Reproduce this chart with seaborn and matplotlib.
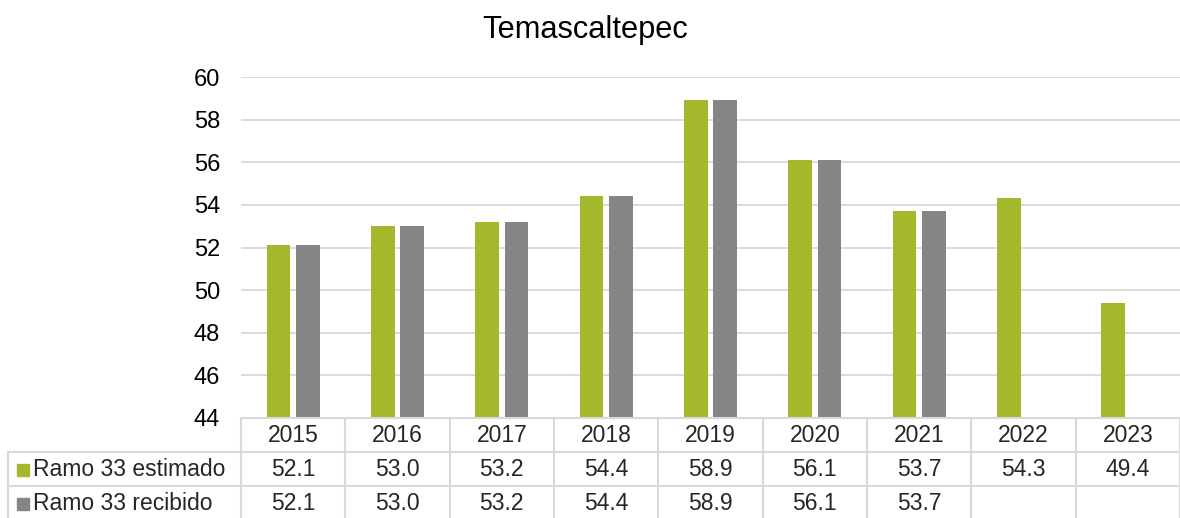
import numpy as np
import pandas as pd
import matplotlib
matplotlib.use("Agg")
import matplotlib.pyplot as plt
import matplotlib.transforms as mtransforms
import seaborn as sns

# Datos del gráfico
anios = ["2015", "2016", "2017", "2018", "2019", "2020", "2021", "2022", "2023"]
estimado = [52.1, 53.0, 53.2, 54.4, 58.9, 56.1, 53.7, 54.3, 49.4]
recibido = [52.1, 53.0, 53.2, 54.4, 58.9, 56.1, 53.7, np.nan, np.nan]
series = ["Ramo 33 estimado", "Ramo 33 recibido"]
colores = ["#A5B82B", "#858585"]
y_ticks = [44, 46, 48, 50, 52, 54, 56, 58, 60]

df = pd.DataFrame({
    "anio": anios * 2,
    "valor": estimado + recibido,
    "serie": [series[0]] * len(anios) + [series[1]] * len(anios),
})

sns.set_theme(style="white")
plt.rcParams["font.family"] = ["Liberation Sans", "DejaVu Sans"]

W, H = 1180, 518
fs_tabla = 16.5
fig = plt.figure(figsize=(W / 100, H / 100), dpi=100)
ax = fig.add_axes([241 / W, 100 / H, 1 - 241 / W, 341 / H])

sns.barplot(data=df, x="anio", y="valor", hue="serie", order=anios,
            hue_order=series, palette=colores, width=0.565, gap=0.2,
            saturation=1, linewidth=0, legend=False, ax=ax)

ax.set_ylim(44, 60)
ax.set_xlim(-0.5, len(anios) - 0.5)
ax.set_yticks(y_ticks)
ax.set_yticklabels([str(t) for t in y_ticks], fontsize=17, color="#000000")
ax.tick_params(axis="y", length=0, pad=15)
ax.set_xticks([])
ax.set_xlabel("")
ax.set_ylabel("")
ax.yaxis.grid(True, color="#D9D9D9", lw=1.3)
ax.set_axisbelow(True)
for s in ax.spines.values():
    s.set_visible(False)

fig.text(0.496, 1 - 30 / H, "Temascaltepec", ha="center", va="center",
         fontsize=22.2, color="#000000")

# Tabla de datos debajo del gráfico
tr = mtransforms.blended_transform_factory(ax.transData, fig.transFigure)
line_c = "#D9D9D9"


def fy(py):
    return 1 - py / H


x_left = -0.5 - (241 - 8) / ((W - 241) / len(anios))
y_top, y_r1, y_r2, y_bot = 418, 452, 486, 518

ax.plot([-0.5, len(anios) - 0.5], [fy(y_top)] * 2, color=line_c, lw=1.5,
        transform=tr, clip_on=False)
for yy in (y_r1, y_r2):
    ax.plot([x_left, len(anios) - 0.5], [fy(yy)] * 2, color=line_c, lw=1.5,
            transform=tr, clip_on=False)
for k in range(len(anios) + 1):
    ax.plot([k - 0.5, k - 0.5], [fy(y_top), fy(y_bot + 2)], color=line_c,
            lw=1.5, transform=tr, clip_on=False)
ax.plot([x_left, x_left], [fy(y_r1), fy(y_bot + 2)], color=line_c, lw=1.5,
        transform=tr, clip_on=False)

for i, a in enumerate(anios):
    ax.text(i, fy(436), a, ha="center", va="center",
            fontsize=fs_tabla, transform=tr)
    for vals, yc in ((estimado, 470), (recibido, 504)):
        v = vals[i]
        if not np.isnan(v):
            ax.text(i, fy(yc), f"{v:.1f}", ha="center",
                    va="center", fontsize=fs_tabla, transform=tr)

for nombre, col, yc in zip(series, colores, (470, 504)):
    fig.patches.append(plt.Rectangle((17 / W, fy(yc + 6)), 12 / W, 12 / H,
                                     color=col, transform=fig.transFigure))
    fig.text(33 / W, fy(yc), nombre, ha="left", va="center", fontsize=fs_tabla)

fig.savefig("out.png", dpi=100)
